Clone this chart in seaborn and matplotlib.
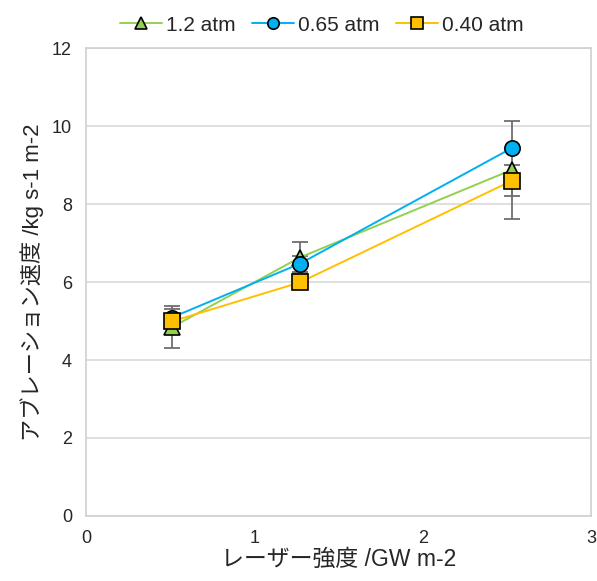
import numpy as np
import pandas as pd
import seaborn as sns
import matplotlib.pyplot as plt

intensity = [0.51, 1.27, 2.53]
series_names = ['1.2 atm', '0.65 atm', '0.40 atm']
rate_12 = [4.84, 6.63, 8.88]
rate_065 = [5.09, 6.47, 9.44]
rate_040 = [4.99, 5.99, 8.60]
err_12 = [0.54, 0.40, 1.25]
err_065 = [0.23, 0.20, 0.00]
err_040 = [0.00, 0.00, 0.40]

colors = ['#92D050', '#00B0F0', '#FFC000']
marks = ['^', 'o', 's']

sns.set_style('white')
plt.rcParams['font.family'] = ['Liberation Sans', 'Noto Sans CJK JP', 'DejaVu Sans']

rows = []
for name, vals, errs in zip(series_names, [rate_12, rate_065, rate_040], [err_12, err_065, err_040]):
    for x, y, e in zip(intensity, vals, errs):
        rows.append({'x': x, 'y': y, 'err': e, 'series': name})
df = pd.DataFrame(rows)

fig, ax = plt.subplots(figsize=(5.97, 5.81), dpi=100)
fig.subplots_adjust(left=0.144, right=0.990, top=0.917, bottom=0.112)

# error bars first, behind the markers
for name in series_names:
    d = df[df['series'] == name]
    d = d[d['err'] > 0]
    ax.errorbar(d['x'], d['y'], yerr=d['err'], fmt='none', ecolor='#6E6E6E',
                elinewidth=1.3, capsize=5.5, capthick=1.3, zorder=2)

sns.lineplot(data=df, x='x', y='y', hue='series', style='series',
             hue_order=series_names, style_order=series_names,
             palette=colors, markers=marks, dashes=False,
             markersize=11, markeredgecolor='black', markeredgewidth=1.2,
             linewidth=1.4, ax=ax, zorder=3)

ax.set_xlim(0, 3)
ax.set_ylim(0, 12)
ax.set_xticks([0, 1, 2, 3])
ax.set_yticks(np.arange(0, 13, 2))
ax.yaxis.grid(True, color='#D9D9D9', linewidth=1.2)
ax.xaxis.grid(False)
ax.set_axisbelow(True)
for s in ax.spines.values():
    s.set_color('#D0D0D0')
    s.set_linewidth(1.2)
ax.tick_params(labelsize=13, length=0, pad=10)

ax.set_xlabel('レーザー強度 /GW m-2', fontsize=16.5, labelpad=1)
ax.set_ylabel('アブレーション速度 /kg s-1 m-2', fontsize=16, labelpad=6)

leg = ax.legend(loc='lower center', bbox_to_anchor=(0.467, 1.0), ncol=3,
                frameon=False, fontsize=15, handlelength=2.0, markerscale=0.75,
                handletextpad=0.2, columnspacing=0.8, borderaxespad=0.25)

fig.savefig('out.png', dpi=100)
